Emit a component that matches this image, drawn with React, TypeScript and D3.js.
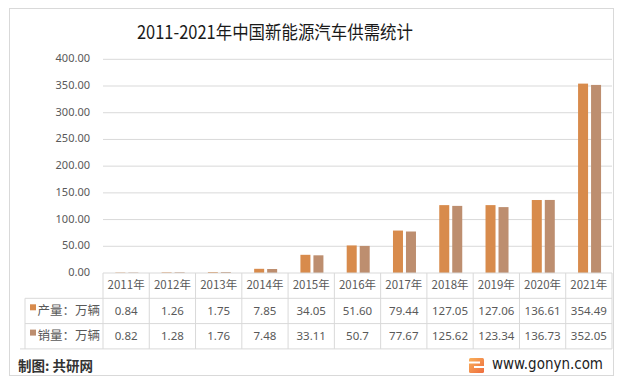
import * as d3 from "d3";

const years = ["2011年", "2012年", "2013年", "2014年", "2015年", "2016年", "2017年", "2018年", "2019年", "2020年", "2021年"];
const production = [0.84, 1.26, 1.75, 7.85, 34.05, 51.6, 79.44, 127.05, 127.06, 136.61, 354.49];
const productionLabels = ["0.84", "1.26", "1.75", "7.85", "34.05", "51.60", "79.44", "127.05", "127.06", "136.61", "354.49"];
const sales = [0.82, 1.28, 1.76, 7.48, 33.11, 50.7, 77.67, 125.62, 123.34, 136.73, 352.05];
const salesLabels = ["0.82", "1.28", "1.76", "7.48", "33.11", "50.7", "77.67", "125.62", "123.34", "136.73", "352.05"];
const seriesNames = ["产量：万辆", "销量：万辆"];
const yTicks = [0, 50, 100, 150, 200, 250, 300, 350, 400];

const WIDTH = 619;
const HEIGHT = 390;
const PLOT_LEFT = 103;
const PLOT_RIGHT = 612;
const PLOT_TOP = 59.3;
const PLOT_BOTTOM = 273;
const ROW_H = 25.3;
const TABLE_LEFT = 25;

const COLORS = ["#D88B4C", "#BD8E6F"];
const GRID = "#D9D9D9";
const TEXT = "#595959";
const CJK = "'Noto Sans CJK SC', 'Noto Sans', sans-serif";

export default function App() {
  const x = d3.scaleBand<string>().domain(years).range([PLOT_LEFT, PLOT_RIGHT]).padding(0);
  const y = d3.scaleLinear().domain([0, 400]).range([PLOT_BOTTOM, PLOT_TOP]);
  const inner = d3
    .scaleBand<number>()
    .domain([0, 1])
    .range([-11.5, 11.5])
    .paddingInner(0.23)
    .paddingOuter(0);

  const series = [production, sales];
  const labels = [productionLabels, salesLabels];
  const rowTops = [PLOT_BOTTOM, PLOT_BOTTOM + ROW_H, PLOT_BOTTOM + 2 * ROW_H];
  const tableBottom = PLOT_BOTTOM + 3 * ROW_H;

  return (
    <svg
      width={WIDTH}
      height={HEIGHT}
      style={{ position: "absolute", left: 0, top: 0, background: "#fff" }}
    >
      <defs>
        <linearGradient id="logo" x1="0" y1="0" x2="1" y2="1">
          <stop offset="0" stopColor="#F9B05A" />
          <stop offset="1" stopColor="#EE6C3E" />
        </linearGradient>
      </defs>
      <rect x={9.5} y={8.5} width={604} height={367} fill="#fff" stroke={GRID} />

      {/* title */}
      <text
        x={137}
        y={34}
        dominantBaseline="middle"
        fontFamily={CJK}
        fontSize={18.5}
        fill="#1a1a1a"
        textLength={276}
        lengthAdjust="spacingAndGlyphs"
      >
        2011-2021年中国新能源汽车供需统计
      </text>

      {/* grid + y axis */}
      {yTicks.map((t) => (
        <g key={t}>
          {t > 0 && (
            <line x1={PLOT_LEFT} x2={PLOT_RIGHT} y1={y(t)} y2={y(t)} stroke={GRID} />
          )}
          <text
            x={90}
            y={y(t)}
            textAnchor="end"
            dominantBaseline="middle"
            fontFamily="'Noto Sans', sans-serif"
            fontSize={11}
            fill={TEXT}
          >
            {t.toFixed(2)}
          </text>
        </g>
      ))}

      {/* bars */}
      {years.map((yr, i) => {
        const cx = (x(yr) ?? 0) + x.bandwidth() / 2 + 0.7;
        return series.map((s, k) => (
          <rect
            key={yr + k}
            x={cx + (inner(k) ?? 0)}
            y={y(s[i])}
            width={inner.bandwidth()}
            height={PLOT_BOTTOM - y(s[i])}
            fill={COLORS[k]}
          />
        ));
      })}

      {/* data table */}
      <line x1={PLOT_LEFT} x2={PLOT_RIGHT} y1={PLOT_BOTTOM} y2={PLOT_BOTTOM} stroke={GRID} />
      {rowTops.slice(1).map((ry) => (
        <line key={ry} x1={TABLE_LEFT} x2={PLOT_RIGHT} y1={ry} y2={ry} stroke={GRID} />
      ))}
      <line x1={20} x2={PLOT_RIGHT} y1={tableBottom} y2={tableBottom} stroke={GRID} />
      <line
        x1={TABLE_LEFT}
        x2={TABLE_LEFT}
        y1={PLOT_BOTTOM + ROW_H}
        y2={tableBottom}
        stroke={GRID}
      />
      {[...years.map((yr) => x(yr) ?? 0), PLOT_RIGHT].map((vx) => (
        <line key={vx} x1={vx} x2={vx} y1={PLOT_BOTTOM} y2={tableBottom} stroke={GRID} />
      ))}
      {years.map((yr) => (
        <text
          key={yr}
          x={(x(yr) ?? 0) + x.bandwidth() / 2}
          y={PLOT_BOTTOM + ROW_H / 2 + 0.5}
          textAnchor="middle"
          dominantBaseline="middle"
          fontFamily={CJK}
          fontSize={11.5}
          fill={TEXT}
        >
          {yr}
        </text>
      ))}
      {labels.map((row, k) => (
        <g key={k}>
          <rect
            x={30}
            y={rowTops[k + 1] + 6}
            width={6}
            height={6}
            fill={COLORS[k]}
          />
          <text
            x={100}
            y={rowTops[k + 1] + ROW_H / 2 + 0.5}
            textAnchor="end"
            dominantBaseline="middle"
            fontFamily={CJK}
            fontSize={12.5}
            fill={TEXT}
          >
            {seriesNames[k]}
          </text>
          {row.map((v, i) => (
            <text
              key={i}
              x={(x(years[i]) ?? 0) + x.bandwidth() / 2}
              y={rowTops[k + 1] + ROW_H / 2 + 0.5}
              textAnchor="middle"
              dominantBaseline="middle"
              fontFamily="'Noto Sans', sans-serif"
              fontSize={11.5}
              fill={TEXT}
            >
              {v}
            </text>
          ))}
        </g>
      ))}

      {/* footer */}
      <text
        x={18}
        y={367}
        dominantBaseline="middle"
        fontFamily={CJK}
        fontSize={13.5}
        fontWeight="bold"
        fill="#333"
      >
        制图: 共研网
      </text>
      <g>
        <rect x={469} y={358} width={15} height={15} rx={1.5} fill="url(#logo)" />
        <rect x={469} y={361.5} width={11} height={2} fill="#fff" />
        <rect x={474} y={366} width={10} height={2} fill="#fff" />
      </g>
      <text
        x={492}
        y={364.5}
        dominantBaseline="middle"
        fontFamily="'DejaVu Sans', sans-serif"
        fontSize={15}
        fill="#222"
        textLength={111}
        lengthAdjust="spacingAndGlyphs"
      >
        www.gonyn.com
      </text>
    </svg>
  );
}
